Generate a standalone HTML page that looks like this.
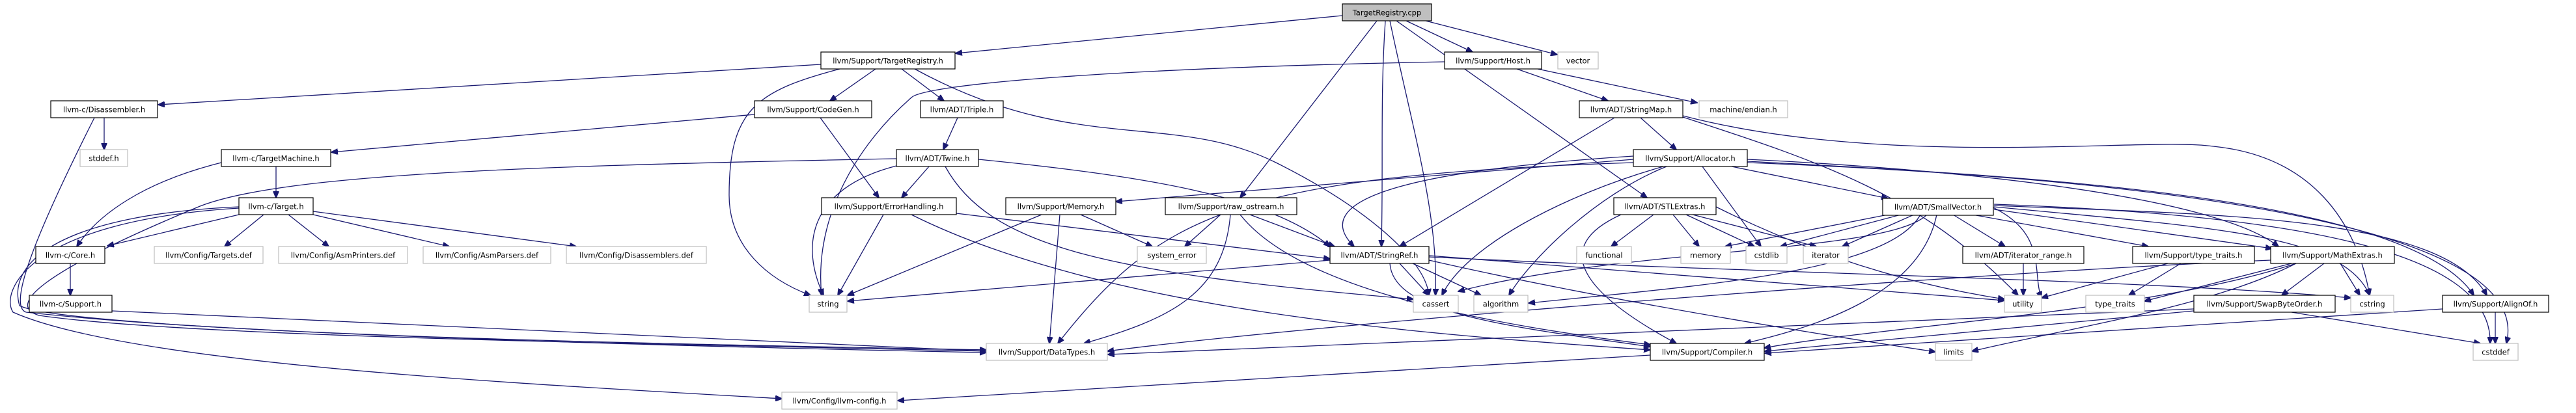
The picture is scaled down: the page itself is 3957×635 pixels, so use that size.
<!DOCTYPE html>
<html><head><meta charset="utf-8"><style>
html,body{margin:0;padding:0;background:#fff;}
svg{display:block;}
text{font-family:"DejaVu Sans","Liberation Sans",sans-serif;font-size:11.5px;fill:#000;}
.e{fill:none;stroke:#191970;stroke-width:1.3;marker-end:url(#a);}
.n{fill:#fff;stroke:#000;stroke-width:1.2;}
.g{fill:#fff;stroke:#bfbfbf;stroke-width:1.2;}
</style></head><body>
<svg width="3957" height="635" viewBox="0 0 3957 635" xmlns="http://www.w3.org/2000/svg">
<defs><marker id="a" markerWidth="11" markerHeight="9" refX="10" refY="4.5" orient="auto" markerUnits="userSpaceOnUse"><path d="M0,0 L11,4.5 L0,9 z" fill="#191970" stroke="#191970"/></marker></defs>
<g>
<path class="e" d="M2062,24 L1468,82"/>
<path class="e" d="M2160,32 L2262,80"/>
<path class="e" d="M2190,32 L2392,84"/>
<path class="e" d="M2115,32 L1905,304"/>
<path class="e" d="M2128,32 C2120,150 2125,250 2122,379"/>
<path class="e" d="M2135,32 C2170,200 2210,330 2205,454"/>
<path class="e" d="M2145,32 L2530,304"/>
<path class="e" d="M1261,99 L243,161"/>
<path class="e" d="M1345,106 L1275,155"/>
<path class="e" d="M1385,106 L1450,155"/>
<path class="e" d="M1290,106 C1160,140 1120,170 1120,300 C1120,380 1180,430 1245,454"/>
<path class="e" d="M1405,106 C1650,240 1800,170 1960,250 C2100,320 2190,400 2195,454"/>
<path class="e" d="M2219,95 C1700,105 1420,130 1400,150 C1320,220 1250,330 1262,454"/>
<path class="e" d="M2330,106 L2470,155"/>
<path class="e" d="M2362,106 L2607,158"/>
<path class="e" d="M1159,176 L509,234"/>
<path class="e" d="M1260,181 L1350,304"/>
<path class="e" d="M1471,181 L1449,230"/>
<path class="e" d="M1427,256 L1385,304"/>
<path class="e" d="M1377,255 C1240,290 1230,380 1265,454"/>
<path class="e" d="M1503,245 C1750,270 1950,300 2043,379"/>
<path class="e" d="M1452,256 C1520,380 1700,420 2171,460"/>
<path class="e" d="M1377,244 C800,255 420,268 300,320 C60,420 10,470 60,485 C300,520 1100,530 1515,540"/>
<path class="e" d="M160,181 L160,230"/>
<path class="e" d="M145,181 C60,350 10,470 40,480 C400,520 1100,530 1515,538"/>
<path class="e" d="M424,256 L424,304"/>
<path class="e" d="M340,250 C220,280 150,330 118,379"/>
<path class="e" d="M367,330 L165,378"/>
<path class="e" d="M405,330 L345,379"/>
<path class="e" d="M443,330 L505,379"/>
<path class="e" d="M481,330 L690,379"/>
<path class="e" d="M481,325 L885,379"/>
<path class="e" d="M367,318 C100,330 10,400 30,470 C100,505 900,530 1515,542"/>
<path class="e" d="M367,320 C40,340 0,450 20,480 C200,560 800,590 1201,613"/>
<path class="e" d="M108,405 L108,454"/>
<path class="e" d="M172,478 L1515,540"/>
<path class="e" d="M1357,330 L1287,454"/>
<path class="e" d="M1400,330 C1700,480 2200,515 2535,538"/>
<path class="e" d="M1469,328 L2043,398"/>
<path class="e" d="M1600,330 L1302,454"/>
<path class="e" d="M1628,330 L1612,528"/>
<path class="e" d="M1660,330 L1770,379"/>
<path class="e" d="M1875,330 L1820,379"/>
<path class="e" d="M1890,330 C1880,450 1800,490 1665,528"/>
<path class="e" d="M1920,330 L2050,379"/>
<path class="e" d="M1905,330 C2000,450 2300,500 2535,530"/>
<path class="e" d="M2509,245 L1714,310"/>
<path class="e" d="M2509,250 C1900,270 1780,330 1625,528"/>
<path class="e" d="M2480,181 L2150,379"/>
<path class="e" d="M2520,181 L2575,230"/>
<path class="e" d="M2585,178 C2900,260 3300,210 3400,225 C3550,240 3620,340 3640,454"/>
<path class="e" d="M2585,180 C2800,250 2950,300 3100,454"/>
<path class="e" d="M2615,256 L2705,379"/>
<path class="e" d="M2555,256 C2400,300 2250,380 2215,454"/>
<path class="e" d="M2560,256 C2450,300 2350,400 2318,454"/>
<path class="e" d="M2660,256 L2900,305"/>
<path class="e" d="M2509,240 C2200,260 2000,300 2080,379"/>
<path class="e" d="M2684,245 C3000,260 3400,300 3500,379"/>
<path class="e" d="M2684,248 C3100,270 3700,300 3800,454"/>
<path class="e" d="M2684,250 C3200,270 3900,330 3850,528"/>
<path class="e" d="M2540,330 L2475,379"/>
<path class="e" d="M2570,330 L2610,379"/>
<path class="e" d="M2590,330 L2695,379"/>
<path class="e" d="M2600,330 L2790,379"/>
<path class="e" d="M2636,318 C2800,400 2950,440 3079,460"/>
<path class="e" d="M2490,330 C2380,380 2430,450 2575,528"/>
<path class="e" d="M2900,330 L2650,379"/>
<path class="e" d="M2920,330 L2735,379"/>
<path class="e" d="M2940,330 L2830,379"/>
<path class="e" d="M2950,330 C2900,420 2600,440 2348,466"/>
<path class="e" d="M2960,330 C2900,390 2500,380 2240,448"/>
<path class="e" d="M2975,330 C2950,450 2800,500 2680,528"/>
<path class="e" d="M3000,330 L3080,379"/>
<path class="e" d="M3030,330 L3300,379"/>
<path class="e" d="M3063,322 L3490,382"/>
<path class="e" d="M3040,310 C3150,350 3120,420 3136,458"/>
<path class="e" d="M3063,318 C3400,350 3600,360 3640,454"/>
<path class="e" d="M3063,316 C3400,330 3750,330 3820,454"/>
<path class="e" d="M3063,314 C3500,330 3830,380 3825,528"/>
<path class="e" d="M2150,405 L2195,454"/>
<path class="e" d="M2170,405 L2275,454"/>
<path class="e" d="M2043,400 L1302,463"/>
<path class="e" d="M2135,405 C2140,480 2300,500 2535,533"/>
<path class="e" d="M2195,395 C2700,420 3300,430 3611,458"/>
<path class="e" d="M2195,393 L3079,462"/>
<path class="e" d="M2195,400 C2500,470 2900,530 2973,541"/>
<path class="e" d="M3570,405 L3505,454"/>
<path class="e" d="M3595,405 L3625,454"/>
<path class="e" d="M3520,405 L3294,463"/>
<path class="e" d="M3488,400 C3000,420 2000,500 1701,540"/>
<path class="e" d="M3527,405 C3300,480 2900,500 2710,535"/>
<path class="e" d="M3527,405 C3400,470 3200,500 3029,540"/>
<path class="e" d="M3330,405 L3136,458"/>
<path class="e" d="M3350,405 L3270,454"/>
<path class="e" d="M3108,405 L3108,454"/>
<path class="e" d="M3370,478 L2711,540"/>
<path class="e" d="M3370,475 L1702,545"/>
<path class="e" d="M3520,480 L3810,528"/>
<path class="e" d="M3833,480 L3833,528"/>
<path class="e" d="M3752,475 L2711,543"/>
<path class="e" d="M2535,546 L1379,616"/>
</g>
<g>
<rect x="2062" y="6" width="137" height="26" fill="#bfbfbf" stroke="#000" stroke-width="1.2"/><text x="2130.5" y="23.5" text-anchor="middle">TargetRegistry.cpp</text>
<rect class="n" x="1261" y="80" width="206" height="26"/><text x="1364" y="97.5" text-anchor="middle">llvm/Support/TargetRegistry.h</text>
<rect class="n" x="2219" y="80" width="149" height="26"/><text x="2293.5" y="97.5" text-anchor="middle">llvm/Support/Host.h</text>
<rect class="g" x="2393" y="80" width="62" height="26"/><text x="2424" y="97.5" text-anchor="middle">vector</text>
<rect class="n" x="78" y="155" width="164" height="26"/><text x="160" y="172.5" text-anchor="middle">llvm-c/Disassembler.h</text>
<rect class="n" x="1159" y="155" width="180" height="26"/><text x="1249" y="172.5" text-anchor="middle">llvm/Support/CodeGen.h</text>
<rect class="n" x="1414" y="155" width="127" height="26"/><text x="1477.5" y="172.5" text-anchor="middle">llvm/ADT/Triple.h</text>
<rect class="n" x="2426" y="155" width="159" height="26"/><text x="2505.5" y="172.5" text-anchor="middle">llvm/ADT/StringMap.h</text>
<rect class="g" x="2610" y="155" width="136" height="26"/><text x="2678" y="172.5" text-anchor="middle">machine/endian.h</text>
<rect class="g" x="123" y="230" width="73" height="26"/><text x="159.5" y="247.5" text-anchor="middle">stddef.h</text>
<rect class="n" x="340" y="230" width="168" height="26"/><text x="424" y="247.5" text-anchor="middle">llvm-c/TargetMachine.h</text>
<rect class="n" x="1377" y="230" width="126" height="26"/><text x="1440" y="247.5" text-anchor="middle">llvm/ADT/Twine.h</text>
<rect class="n" x="2509" y="230" width="175" height="26"/><text x="2596.5" y="247.5" text-anchor="middle">llvm/Support/Allocator.h</text>
<rect class="n" x="367" y="304" width="114" height="26"/><text x="424" y="321.5" text-anchor="middle">llvm-c/Target.h</text>
<rect class="n" x="1262" y="304" width="207" height="26"/><text x="1365.5" y="321.5" text-anchor="middle">llvm/Support/ErrorHandling.h</text>
<rect class="n" x="1545" y="304" width="169" height="26"/><text x="1629.5" y="321.5" text-anchor="middle">llvm/Support/Memory.h</text>
<rect class="n" x="1790" y="304" width="202" height="26"/><text x="1891" y="321.5" text-anchor="middle">llvm/Support/raw_ostream.h</text>
<rect class="n" x="2479" y="304" width="157" height="26"/><text x="2557.5" y="321.5" text-anchor="middle">llvm/ADT/STLExtras.h</text>
<rect class="n" x="2892" y="305" width="170" height="26"/><text x="2977" y="322.5" text-anchor="middle">llvm/ADT/SmallVector.h</text>
<rect class="n" x="55" y="379" width="106" height="26"/><text x="108" y="396.5" text-anchor="middle">llvm-c/Core.h</text>
<rect class="g" x="237" y="379" width="167" height="26"/><text x="320.5" y="396.5" text-anchor="middle">llvm/Config/Targets.def</text>
<rect class="g" x="428" y="379" width="198" height="26"/><text x="527" y="396.5" text-anchor="middle">llvm/Config/AsmPrinters.def</text>
<rect class="g" x="650" y="379" width="196" height="26"/><text x="748" y="396.5" text-anchor="middle">llvm/Config/AsmParsers.def</text>
<rect class="g" x="870" y="379" width="215" height="26"/><text x="977.5" y="396.5" text-anchor="middle">llvm/Config/Disassemblers.def</text>
<rect class="g" x="1747" y="379" width="106" height="26"/><text x="1800" y="396.5" text-anchor="middle">system_error</text>
<rect class="n" x="2043" y="379" width="152" height="26"/><text x="2119" y="396.5" text-anchor="middle">llvm/ADT/StringRef.h</text>
<rect class="g" x="2422" y="379" width="84" height="26"/><text x="2464" y="396.5" text-anchor="middle">functional</text>
<rect class="g" x="2582" y="379" width="76" height="26"/><text x="2620" y="396.5" text-anchor="middle">memory</text>
<rect class="g" x="2682" y="379" width="63" height="26"/><text x="2713.5" y="396.5" text-anchor="middle">cstdlib</text>
<rect class="g" x="2770" y="379" width="69" height="26"/><text x="2804.5" y="396.5" text-anchor="middle">iterator</text>
<rect class="n" x="3015" y="379" width="186" height="26"/><text x="3108" y="396.5" text-anchor="middle">llvm/ADT/iterator_range.h</text>
<rect class="n" x="3276" y="379" width="187" height="26"/><text x="3369.5" y="396.5" text-anchor="middle">llvm/Support/type_traits.h</text>
<rect class="n" x="3488" y="379" width="190" height="26"/><text x="3583" y="396.5" text-anchor="middle">llvm/Support/MathExtras.h</text>
<rect class="n" x="45" y="454" width="127" height="26"/><text x="108.5" y="471.5" text-anchor="middle">llvm-c/Support.h</text>
<rect class="g" x="1243" y="454" width="58" height="26"/><text x="1272" y="471.5" text-anchor="middle">string</text>
<rect class="g" x="2171" y="454" width="69" height="26"/><text x="2205.5" y="471.5" text-anchor="middle">cassert</text>
<rect class="g" x="2264" y="454" width="83" height="26"/><text x="2305.5" y="471.5" text-anchor="middle">algorithm</text>
<rect class="g" x="3079" y="454" width="57" height="26"/><text x="3107.5" y="471.5" text-anchor="middle">utility</text>
<rect class="g" x="3204" y="454" width="90" height="26"/><text x="3249" y="471.5" text-anchor="middle">type_traits</text>
<rect class="n" x="3370" y="454" width="217" height="26"/><text x="3478.5" y="471.5" text-anchor="middle">llvm/Support/SwapByteOrder.h</text>
<rect class="g" x="3611" y="454" width="66" height="26"/><text x="3644" y="471.5" text-anchor="middle">cstring</text>
<rect class="n" x="3752" y="454" width="163" height="26"/><text x="3833.5" y="471.5" text-anchor="middle">llvm/Support/AlignOf.h</text>
<rect class="g" x="1515" y="528" width="186" height="26"/><text x="1608" y="545.5" text-anchor="middle">llvm/Support/DataTypes.h</text>
<rect class="n" x="2535" y="528" width="175" height="26"/><text x="2622.5" y="545.5" text-anchor="middle">llvm/Support/Compiler.h</text>
<rect class="g" x="2973" y="528" width="56" height="26"/><text x="3001" y="545.5" text-anchor="middle">limits</text>
<rect class="g" x="3799" y="528" width="69" height="26"/><text x="3833.5" y="545.5" text-anchor="middle">cstddef</text>
<rect class="g" x="1201" y="603" width="177" height="26"/><text x="1289.5" y="620.5" text-anchor="middle">llvm/Config/llvm-config.h</text>
</g>
</svg>
</body></html>
